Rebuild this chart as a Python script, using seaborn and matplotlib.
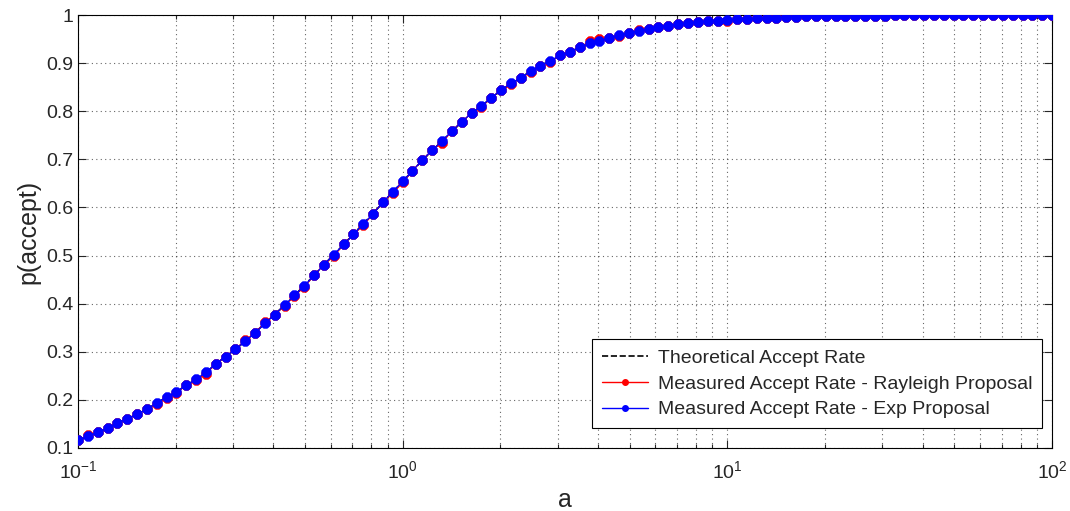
"""
plot.py
-------

Acceptance rate of the rejection sampler against the proposal parameter ``a``:
theoretical curve and the rates measured with the Rayleigh and Exp proposals.

Output:
    ``out.png``
"""

import matplotlib

matplotlib.use("Agg")

import matplotlib.pyplot as plt
import pandas as pd
import seaborn as sns
from matplotlib.lines import Line2D

# parameter values (log spaced, 100 points from 1e-1 to 1e2)
a_values = [
    0.1, 0.1072, 0.1150, 0.1233, 0.1322, 0.1417, 0.1520, 0.1630, 0.1748, 0.1874,
    0.2009, 0.2154, 0.2310, 0.2477, 0.2656, 0.2848, 0.3054, 0.3275, 0.3511, 0.3765,
    0.4037, 0.4329, 0.4642, 0.4977, 0.5337, 0.5722, 0.6136, 0.6579, 0.7055, 0.7565,
    0.8111, 0.8697, 0.9326, 1.0, 1.072, 1.150, 1.233, 1.322, 1.417, 1.520,
    1.630, 1.748, 1.874, 2.009, 2.154, 2.310, 2.477, 2.656, 2.848, 3.054,
    3.275, 3.511, 3.765, 4.037, 4.329, 4.642, 4.977, 5.337, 5.722, 6.136,
    6.579, 7.055, 7.565, 8.111, 8.697, 9.326, 10.0, 10.72, 11.50, 12.33,
    13.22, 14.17, 15.20, 16.30, 17.48, 18.74, 20.09, 21.54, 23.10, 24.77,
    26.56, 28.48, 30.54, 32.75, 35.11, 37.65, 40.37, 43.29, 46.42, 49.77,
    53.37, 57.22, 61.36, 65.79, 70.55, 75.65, 81.11, 86.97, 93.26, 100.0,
]

theory_rate = [
    0.116, 0.124, 0.133, 0.141, 0.152, 0.161, 0.170, 0.181, 0.193, 0.206,
    0.217, 0.230, 0.243, 0.257, 0.274, 0.290, 0.305, 0.322, 0.340, 0.359,
    0.378, 0.397, 0.417, 0.438, 0.459, 0.481, 0.502, 0.523, 0.545, 0.566,
    0.588, 0.610, 0.632, 0.654, 0.676, 0.698, 0.718, 0.738, 0.758, 0.777,
    0.795, 0.811, 0.827, 0.843, 0.857, 0.870, 0.883, 0.895, 0.905, 0.915,
    0.924, 0.932, 0.940, 0.946, 0.952, 0.958, 0.962, 0.967, 0.971, 0.975,
    0.978, 0.981, 0.983, 0.985, 0.987, 0.988, 0.989, 0.991, 0.992, 0.993,
    0.994, 0.995, 0.996, 0.996, 0.997, 0.997, 0.998, 0.998, 0.999, 0.999,
    0.999, 0.999, 0.999, 1.000, 1.000, 1.000, 1.000, 1.000, 1.000, 1.000,
    1.000, 1.000, 1.000, 1.000, 1.000, 1.000, 1.000, 1.000, 1.000, 1.000,
]

rayleigh_rate = [
    0.116, 0.126, 0.133, 0.141, 0.152, 0.161, 0.170, 0.181, 0.191, 0.203,
    0.215, 0.230, 0.241, 0.254, 0.275, 0.290, 0.305, 0.324, 0.339, 0.361,
    0.377, 0.396, 0.416, 0.435, 0.459, 0.481, 0.499, 0.523, 0.544, 0.563,
    0.587, 0.611, 0.630, 0.652, 0.676, 0.699, 0.719, 0.735, 0.759, 0.778,
    0.796, 0.809, 0.828, 0.844, 0.856, 0.869, 0.881, 0.895, 0.903, 0.916,
    0.924, 0.933, 0.945, 0.951, 0.952, 0.957, 0.962, 0.969, 0.971, 0.975,
    0.977, 0.981, 0.983, 0.985, 0.987, 0.988, 0.988, 0.991, 0.991, 0.993,
    0.993, 0.994, 0.996, 0.996, 0.997, 0.997, 0.998, 0.998, 0.999, 0.999,
    0.999, 0.999, 0.999, 1.000, 1.000, 1.000, 1.000, 1.000, 1.000, 1.000,
    1.000, 1.000, 1.000, 1.000, 1.000, 1.000, 1.000, 1.000, 1.000, 1.000,
]

exp_rate = [
    0.116, 0.124, 0.133, 0.141, 0.152, 0.161, 0.170, 0.181, 0.193, 0.206,
    0.217, 0.230, 0.243, 0.257, 0.275, 0.290, 0.305, 0.322, 0.339, 0.359,
    0.377, 0.397, 0.417, 0.437, 0.459, 0.481, 0.502, 0.523, 0.544, 0.566,
    0.587, 0.611, 0.633, 0.654, 0.676, 0.699, 0.719, 0.738, 0.759, 0.778,
    0.796, 0.811, 0.828, 0.844, 0.858, 0.869, 0.883, 0.895, 0.905, 0.916,
    0.924, 0.933, 0.941, 0.947, 0.952, 0.959, 0.962, 0.967, 0.971, 0.975,
    0.978, 0.981, 0.983, 0.985, 0.987, 0.988, 0.989, 0.991, 0.991, 0.993,
    0.993, 0.994, 0.996, 0.996, 0.997, 0.997, 0.998, 0.998, 0.999, 0.999,
    0.999, 0.999, 0.999, 1.000, 1.000, 1.000, 1.000, 1.000, 1.000, 1.000,
    1.000, 1.000, 1.000, 1.000, 1.000, 1.000, 1.000, 1.000, 1.000, 1.000,
]

y_ticks = [0.1, 0.2, 0.3, 0.4, 0.5, 0.6, 0.7, 0.8, 0.9, 1]
y_tick_labels = ["0.1", "0.2", "0.3", "0.4", "0.5", "0.6", "0.7", "0.8", "0.9", "1"]

series_labels = [
    "Theoretical Accept Rate",
    "Measured Accept Rate - Rayleigh Proposal",
    "Measured Accept Rate - Exp Proposal",
]


def plot(outfile="out.png"):
    sns.set_style("ticks")
    plt.rcParams["font.family"] = ["Liberation Sans", "DejaVu Sans"]
    plt.rcParams["mathtext.fontset"] = "custom"
    plt.rcParams["mathtext.rm"] = "Liberation Sans"
    plt.rcParams["mathtext.it"] = "Liberation Sans"

    data = pd.DataFrame(
        {"a": a_values, "theory": theory_rate, "rayleigh": rayleigh_rate, "exp": exp_rate}
    )

    fig = plt.figure(figsize=(10.7, 5.11), dpi=100)
    ax = fig.add_axes([0.0729, 0.1233, 0.9103, 0.8473])

    asterisk = (8, 2, 0)
    sns.lineplot(
        data=data, x="a", y="theory", ax=ax, color="k", linestyle="--",
        linewidth=1.2, zorder=2,
    )
    sns.lineplot(
        data=data, x="a", y="rayleigh", ax=ax, color="red", linewidth=1.0,
        marker=asterisk, markersize=7, markeredgewidth=2.8, markeredgecolor="red",
        zorder=3,
    )
    sns.lineplot(
        data=data, x="a", y="exp", ax=ax, color="blue", linewidth=1.0,
        marker=asterisk, markersize=7, markeredgewidth=2.8, markeredgecolor="blue",
        zorder=4,
    )

    ax.set_xscale("log")
    ax.set_xlim(0.1, 100)
    ax.set_ylim(0.1, 1)
    ax.set_yticks(y_ticks)
    ax.set_yticklabels(y_tick_labels)

    # MATLAB-like box: ticks inside on all sides, dotted grid
    ax.tick_params(which="both", direction="in", top=True, right=True, labelsize=14)
    ax.tick_params(which="major", length=6, width=0.8)
    ax.tick_params(which="minor", length=3, width=0.8)
    ax.tick_params(axis="x", which="major", pad=9)
    ax.grid(True, which="both", linestyle=(0, (1, 3)), color="k", linewidth=0.8, alpha=0.6)
    for spine in ax.spines.values():
        spine.set_visible(True)
        spine.set_color("k")
        spine.set_linewidth(0.8)

    ax.set_xlabel("a", fontsize=18)
    ax.set_ylabel("p(accept)", fontsize=18)
    ax.xaxis.labelpad = 4
    ax.yaxis.labelpad = 4

    # legend: small dot markers, square black frame
    handles = [
        Line2D([], [], color="k", linestyle="--", linewidth=1.2),
        Line2D([], [], color="red", linewidth=1.0, marker="o", markersize=4),
        Line2D([], [], color="blue", linewidth=1.0, marker="o", markersize=4),
    ]
    leg = ax.legend(
        handles, series_labels, loc="lower right", fontsize=14, frameon=True,
        fancybox=False, edgecolor="k", framealpha=1, borderpad=0.5, handlelength=2.4,
        handletextpad=0.5, labelspacing=0.42, borderaxespad=0,
        bbox_to_anchor=(0.99, 0.046),
    )
    leg.get_frame().set_linewidth(0.8)

    if outfile:
        fig.savefig(outfile, dpi=100)


if __name__ == "__main__":
    plot()
